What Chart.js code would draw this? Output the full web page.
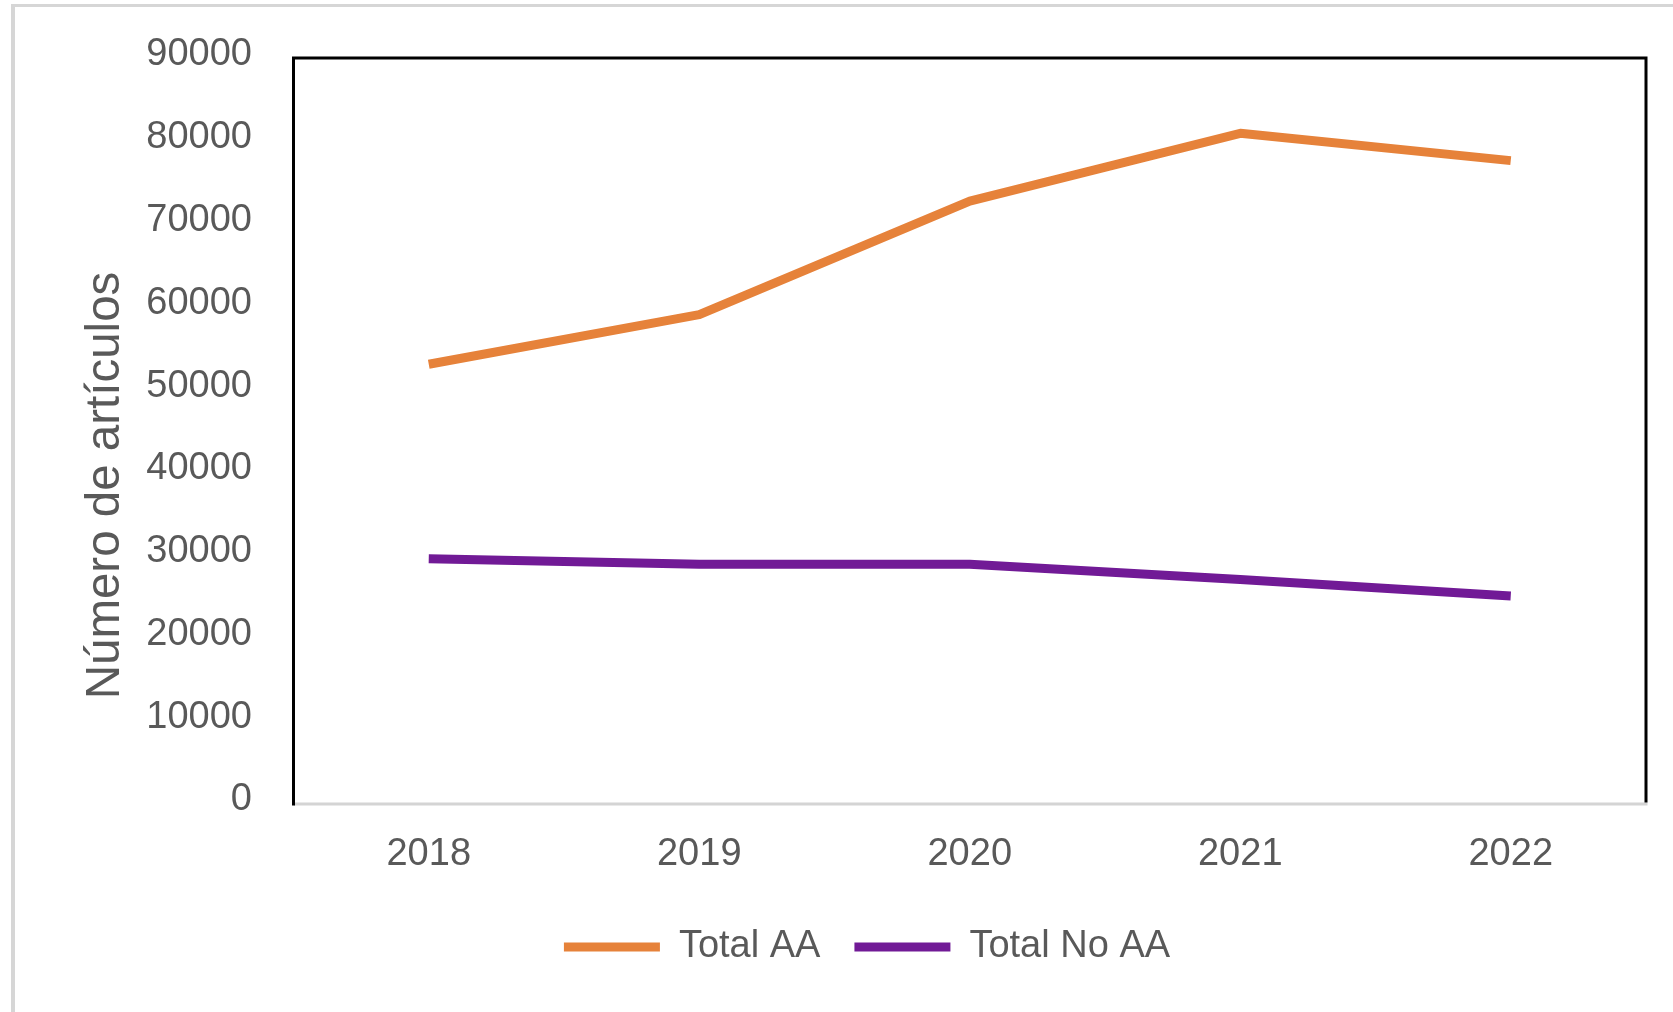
<!DOCTYPE html>
<html>
<head>
<meta charset="utf-8">
<script src="https://cdn.jsdelivr.net/npm/chart.js@4.4.0/dist/chart.umd.min.js"></script>
<style>
  html, body { margin: 0; padding: 0; background: #ffffff; }
  #wrap { position: relative; width: 1673px; height: 1012px; }
  canvas { display: block; }
</style>
</head>
<body>
<div id="wrap"><canvas id="c" width="1673" height="1012"></canvas></div>
<script>
// ---- data ----
const categories = ['2018', '2019', '2020', '2021', '2022'];
const totalAA = [53000, 59000, 72700, 80900, 77600];
const totalNoAA = [29500, 28850, 28850, 27000, 25000];
const seriesNames = ['Total AA', 'Total No AA'];
const yTitle = 'Número de artículos';
const yMin = 0, yMax = 90000, yStep = 10000;

const FONT = '"Liberation Sans", Arial, sans-serif';
const TEXT = '#595959';
const ORANGE = '#E6823A';
const PURPLE = '#711A96';

const framePlugin = {
  id: 'frame',
  beforeDraw(chart) {
    const ctx = chart.ctx;
    ctx.save();
    ctx.fillStyle = '#ffffff';
    ctx.fillRect(0, 0, chart.width, chart.height);
    // light outer frame (clipped on right/bottom as in the reference)
    ctx.fillStyle = '#d6d6d6';
    ctx.fillRect(11, 4, 4, chart.height - 4);
    ctx.fillRect(11, 4, chart.width - 11, 3);
    ctx.restore();
  },
  beforeDatasetsDraw(chart) {
    const ctx = chart.ctx;
    const a = chart.chartArea;
    ctx.save();
    ctx.lineWidth = 3;
    ctx.strokeStyle = '#d4d4d4';
    ctx.beginPath();
    ctx.moveTo(a.left, a.bottom + 1);
    ctx.lineTo(a.right + 1.5, a.bottom + 1);
    ctx.stroke();
    ctx.strokeStyle = '#000000';
    ctx.beginPath();
    ctx.moveTo(a.left, a.bottom + 2.5);
    ctx.lineTo(a.left, a.top);
    ctx.lineTo(a.right, a.top);
    ctx.lineTo(a.right, a.bottom - 0.5);
    ctx.stroke();
    ctx.restore();
  },
  afterDraw(chart) {
    const ctx = chart.ctx;
    const a = chart.chartArea;
    ctx.save();
    ctx.translate(a.left - 187.5, a.bottom - 317.5);
    ctx.rotate(-Math.PI / 2);
    ctx.font = '47.5px ' + FONT;
    ctx.fillStyle = TEXT;
    ctx.textAlign = 'center';
    ctx.textBaseline = 'middle';
    ctx.fillText(yTitle, 0, 0);
    ctx.restore();
  }
};

new Chart(document.getElementById('c'), {
  type: 'line',
  data: {
    labels: categories,
    datasets: [
      { label: seriesNames[0], data: totalAA, borderColor: ORANGE, backgroundColor: ORANGE,
        borderWidth: 9, pointRadius: 0, pointHoverRadius: 0, tension: 0, fill: false,
        borderCapStyle: 'butt', borderJoinStyle: 'round' },
      { label: seriesNames[1], data: totalNoAA, borderColor: PURPLE, backgroundColor: PURPLE,
        borderWidth: 9, pointRadius: 0, pointHoverRadius: 0, tension: 0, fill: false,
        borderCapStyle: 'butt', borderJoinStyle: 'round' }
    ]
  },
  options: {
    responsive: false,
    animation: false,
    devicePixelRatio: 1,
    layout: { padding: { left: 88, right: 27, top: 58, bottom: 36 } },
    plugins: {
      tooltip: { enabled: false },
      title: { display: false },
      legend: {
        display: true,
        position: 'bottom',
        labels: {
          font: { family: FONT, size: 38 },
          color: TEXT,
          boxWidth: 96,
          boxHeight: 9,
          padding: 34,
          generateLabels(chart) {
            return chart.data.datasets.map((ds, i) => ({
              text: ds.label,
              fillStyle: ds.borderColor,
              strokeStyle: ds.borderColor,
              lineWidth: 0,
              hidden: false,
              datasetIndex: i,
              fontColor: TEXT
            }));
          }
        }
      }
    },
    scales: {
      x: {
        type: 'category',
        offset: true,
        grid: { display: false, drawTicks: false },
        border: { display: false },
        ticks: { font: { family: FONT, size: 38 }, color: TEXT, padding: 29, maxRotation: 0 },
        afterFit(scale) { scale.height = 91; }
      },
      y: {
        min: yMin,
        max: yMax,
        grid: { display: false, drawTicks: false },
        border: { display: false },
        ticks: {
          stepSize: yStep,
          font: { family: FONT, size: 38 },
          color: TEXT,
          padding: 41.5,
          labelOffset: -3,
          callback: (v) => String(v)
        },
        afterFit(scale) {
          scale.width = 205.5;
          scale.paddingTop = 0;
          scale.paddingBottom = 0;
        }
      }
    }
  },
  plugins: [framePlugin]
});
</script>
</body>
</html>
